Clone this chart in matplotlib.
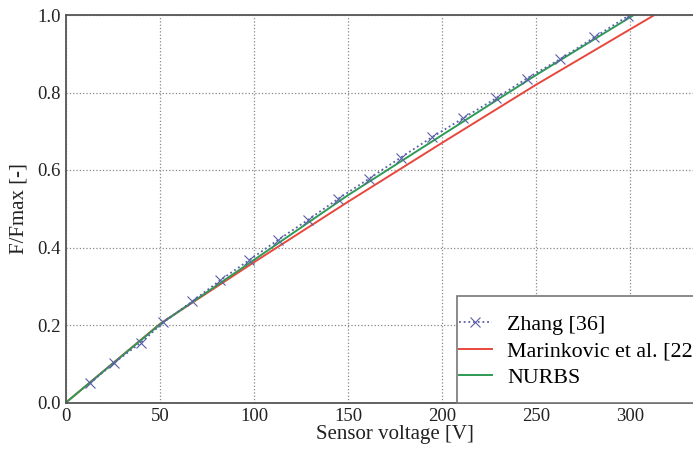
import matplotlib

matplotlib.use("Agg")
import matplotlib.pyplot as plt
from matplotlib.patches import Rectangle

# Zhang [36] measured points
zhang_v = [12.8, 25.7, 39.7, 51.8, 67.2, 81.9, 97.3, 112.9, 128.9, 144.9,
           161.3, 178.0, 194.5, 211.0, 228.7, 245.0, 262.8, 280.9, 299.1]
zhang_f = [0.050, 0.103, 0.154, 0.207, 0.261, 0.315, 0.367, 0.420, 0.472, 0.526,
           0.578, 0.632, 0.684, 0.733, 0.785, 0.836, 0.886, 0.942, 0.998]

# Marinkovic et al. [22]
marin_v = [0, 50, 100, 150, 200, 250, 313]
marin_f = [0.0, 0.203, 0.362, 0.518, 0.670, 0.820, 1.0]

# NURBS fit
nurbs_v = [0, 50, 100, 150, 200, 250, 302]
nurbs_f = [0.0, 0.202, 0.368, 0.535, 0.690, 0.845, 1.0]

plt.rcParams["font.family"] = ["Liberation Serif", "DejaVu Serif"]

fig = plt.figure(figsize=(6.93, 4.55), dpi=100)
ax = fig.add_axes([66 / 693, 1 - 402.5 / 455, 658 / 693, 387.5 / 455])

ax.plot(marin_v, marin_f, color="#e8473c", lw=1.4, label="Marinkovic et al. [22]")
ax.plot(nurbs_v, nurbs_f, color="#2e9a55", lw=1.4, label="NURBS")
ax.plot(zhang_v, zhang_f, color="#5a5fa8", ls=(0, (1, 1.6)), lw=1.3, marker="x",
        ms=7, mew=0.8, label="Zhang [36]")

ax.set_xlim(0, 350)
ax.set_ylim(0, 1.0)
ax.set_xticks(range(0, 301, 50))
ax.set_yticks([0.0, 0.2, 0.4, 0.6, 0.8, 1.0])
ax.set_yticklabels(["0.0", "0.2", "0.4", "0.6", "0.8", "1.0"])
ax.tick_params(length=0, labelsize=13.5, colors="#222222", pad=4)
ax.grid(True, ls=":", color="#888888", lw=0.9)
for s in ax.spines.values():
    s.set_color("#555555")
    s.set_linewidth(1.3)

ax.set_xlabel("Sensor voltage [V]", fontsize=15, color="#222222", labelpad=0)
ax.set_ylabel("F/Fmax [-]", fontsize=15, color="#222222", labelpad=6)

# legend box: the frame runs past the right edge of the picture
box = Rectangle((457 / 693, 1 - 402.5 / 455), 0.5, 106.5 / 455,
                transform=fig.transFigure, facecolor="white",
                edgecolor="#777777", lw=1.2, zorder=4, clip_on=False)
ax.add_patch(box)

h, l = ax.get_legend_handles_labels()
leg = ax.legend([h[2], h[0], h[1]], [l[2], l[0], l[1]], loc="center left",
                bbox_to_anchor=(459 / 693, 1 - 351 / 455),
                bbox_transform=fig.transFigure, fontsize=15.8, frameon=False,
                borderaxespad=0, borderpad=0, handlelength=1.5,
                handletextpad=0.7, labelspacing=0.28)
leg.set_zorder(5)

fig.savefig("out.png", dpi=100)
